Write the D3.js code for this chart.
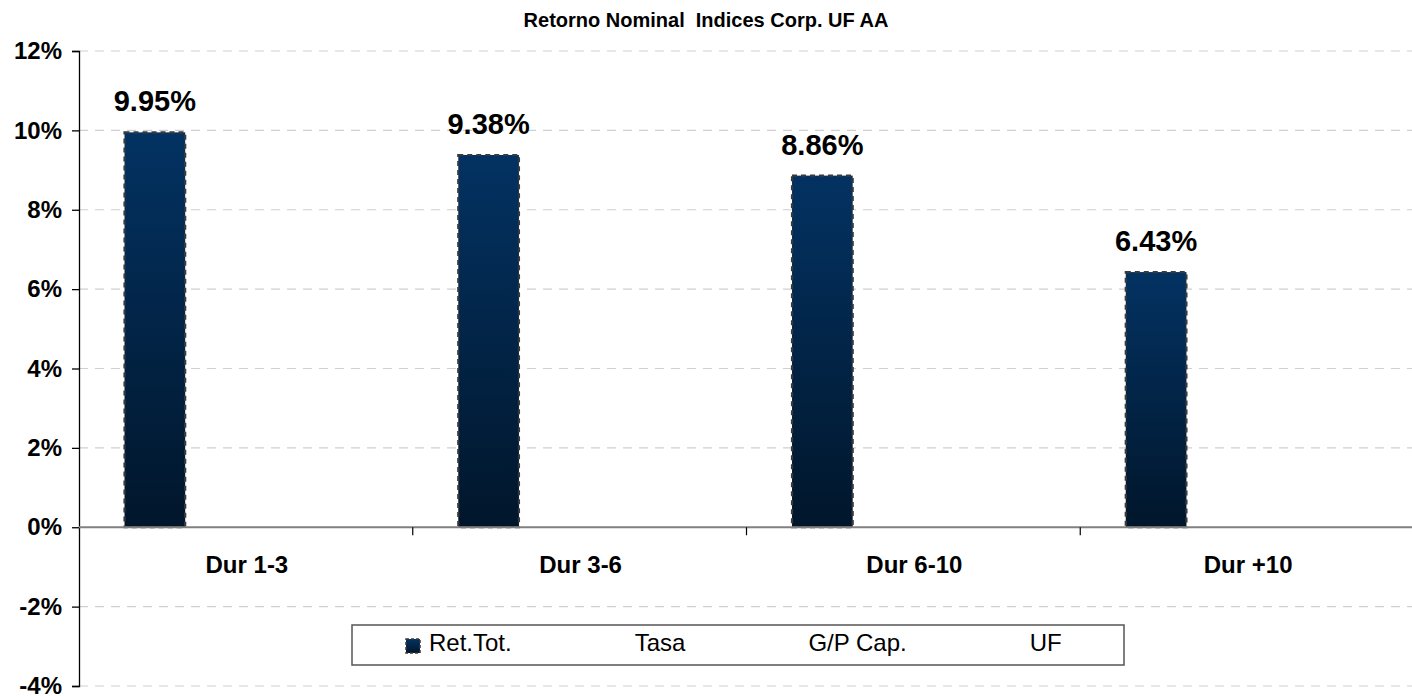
<!DOCTYPE html>
<html>
<head>
<meta charset="utf-8">
<script src="https://cdn.jsdelivr.net/npm/d3@7"></script>
<style>
  body { margin: 0; background: #fff; }
  svg { display: block; font-family: Arial, "Liberation Sans", sans-serif; }
</style>
</head>
<body>
<div id="canvas"></div>
<script>
// chart data
const categories = ["Dur 1-3", "Dur 3-6", "Dur 6-10", "Dur +10"];
const seriesNames = ["Ret.Tot.", "Tasa", "G/P Cap.", "UF"];
const retTot = [9.95, 9.38, 8.86, 6.43];
const tasa = [null, null, null, null];
const gpCap = [null, null, null, null];
const uf = [null, null, null, null];
const yTicks = [-4, -2, 0, 2, 4, 6, 8, 10, 12];
const title = "Retorno Nominal  Indices Corp. UF AA";

const seriesValues = [retTot, tasa, gpCap, uf];
const rows = [];
categories.forEach((c, i) => {
  seriesNames.forEach((s, j) => {
    if (seriesValues[j][i] != null) rows.push({ cat: c, series: s, value: seriesValues[j][i] });
  });
});

const W = 1412, H = 696;
const margin = { top: 51, right: -2, bottom: 10, left: 79 };

const svg = d3.select("#canvas").append("svg")
  .attr("width", W).attr("height", H);

// gradient for the bars
const grad = svg.append("defs").append("linearGradient")
  .attr("id", "barGrad").attr("x1", 0).attr("y1", 0).attr("x2", 0).attr("y2", 1);
grad.append("stop").attr("offset", "0%").attr("stop-color", "#033262");
grad.append("stop").attr("offset", "100%").attr("stop-color", "#01162b");

var x0 = d3.scaleBand().domain(categories).range([margin.left, W - margin.right]).padding(0);
var x1 = d3.scaleBand().domain(seriesNames).range([0, x0.bandwidth()])
  .paddingInner(0).paddingOuter(0.75);
var y = d3.scaleLinear().domain([-4, 12]).range([H - margin.bottom, margin.top]);

// title
svg.append("text")
  .attr("x", W / 2).attr("y", 27)
  .attr("text-anchor", "middle")
  .style("white-space", "pre")
  .attr("font-size", 20).attr("font-weight", "bold")
  .text(title);

// gridlines
svg.append("g").selectAll("line").data(yTicks.filter(d => d !== 0)).join("line")
  .attr("x1", margin.left).attr("x2", W)
  .attr("y1", d => y(d)).attr("y2", d => y(d))
  .attr("stroke", "#d0d0d0").attr("stroke-width", 1.2)
  .attr("stroke-dasharray", "9,7");

// y axis
const yAxis = svg.append("g")
  .attr("transform", "translate(" + margin.left + ",0)")
  .call(d3.axisLeft(y).tickValues(yTicks).tickFormat(d => d + "%").tickSize(7).tickPadding(10));
yAxis.select(".domain").attr("stroke", "#000").attr("stroke-width", 1.3);
yAxis.selectAll(".tick line").attr("stroke", "#000").attr("stroke-width", 1.3);
yAxis.selectAll(".tick text")
  .attr("font-size", 24).attr("font-weight", "bold").attr("fill", "#000")
  .attr("font-family", "Arial, 'Liberation Sans', sans-serif");

// bars
svg.append("g").selectAll("rect").data(rows).join("rect")
  .attr("x", d => x0(d.cat) + x1(d.series))
  .attr("width", x1.bandwidth())
  .attr("y", d => y(Math.max(0, d.value)))
  .attr("height", d => Math.abs(y(d.value) - y(0)))
  .attr("fill", "url(#barGrad)")
  .attr("stroke", "#3a3a3a").attr("stroke-width", 2.2)
  .attr("stroke-dasharray", "5,4");

// zero line + category ticks
svg.append("line")
  .attr("x1", margin.left).attr("x2", W)
  .attr("y1", y(0)).attr("y2", y(0))
  .attr("stroke", "#808080").attr("stroke-width", 2);
svg.append("g").selectAll("line").data(categories.slice(1)).join("line")
  .attr("x1", d => x0(d)).attr("x2", d => x0(d))
  .attr("y1", y(0)).attr("y2", y(0) + 8)
  .attr("stroke", "#000").attr("stroke-width", 1.2);

// category labels
svg.append("g").selectAll("text").data(categories).join("text")
  .attr("x", d => x0(d) + x0.bandwidth() / 2 + 1)
  .attr("y", y(0) + 46)
  .attr("text-anchor", "middle")
  .attr("font-size", 24).attr("font-weight", "bold")
  .text(d => d);

// value labels
svg.append("g").selectAll("text").data(rows).join("text")
  .attr("x", d => x0(d.cat) + x1(d.series) + x1.bandwidth() / 2)
  .attr("y", d => y(d.value) - 21)
  .attr("text-anchor", "middle")
  .attr("font-size", 29).attr("font-weight", "bold")
  .text(d => d.value.toFixed(2) + "%");

// legend
const legend = svg.append("g");
legend.append("rect")
  .attr("x", 352).attr("y", 625).attr("width", 772).attr("height", 40)
  .attr("fill", "#fff").attr("stroke", "#555").attr("stroke-width", 1.5);
let lx = 406;
seriesNames.forEach((s, j) => {
  const hasData = seriesValues[j].some(v => v != null);
  if (hasData) {
    legend.append("rect")
      .attr("x", lx).attr("y", 639).attr("width", 14).attr("height", 14)
      .attr("fill", "url(#barGrad)")
      .attr("stroke", "#3a3a3a").attr("stroke-width", 1.5).attr("stroke-dasharray", "3,2");
  }
  const t = legend.append("text")
    .attr("x", lx + 23).attr("y", 651)
    .attr("font-size", 24)
    .text(s);
  lx = lx + 23 + t.node().getComputedTextLength() + 100;
});
</script>
</body>
</html>
